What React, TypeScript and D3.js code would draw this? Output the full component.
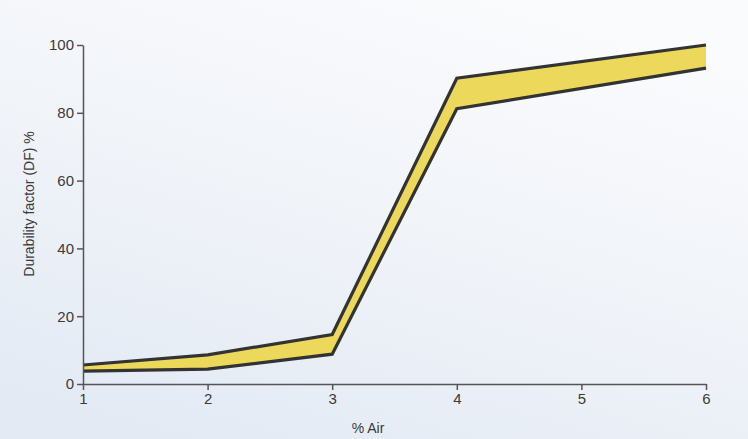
import React, { useRef, useEffect } from "react";
import * as d3 from "d3";

const W = 748;
const H = 439;
const MARGIN = { top: 45, right: 42, bottom: 55, left: 83 };

const airPct = [1, 2, 3, 4, 6];
const dfUpper = [5.6, 8.6, 14.6, 90.2, 100];
const dfLower = [3.8, 4.4, 8.8, 81.2, 93.2];
const xTicks = [1, 2, 3, 4, 5, 6];
const yTicks = [0, 20, 40, 60, 80, 100];

const LINE_COLOR = "#333333";
const FILL_COLOR = "#ecd95c";
const AXIS_COLOR = "#555";
const TEXT_COLOR = "#3a3a3a";
const FONT = "'Liberation Sans', Arial, sans-serif";

export default function App() {
  const svgRef = useRef<SVGSVGElement>(null);

  useEffect(() => {
    const svg = d3.select(svgRef.current);
    svg.selectAll("*").remove();

    const innerW = W - MARGIN.left - MARGIN.right;
    const innerH = H - MARGIN.top - MARGIN.bottom;

    // paper-ish background, whiter at the top right
    const defs = svg.append("defs");
    const grad = defs
      .append("linearGradient")
      .attr("id", "bg")
      .attr("x1", "70%")
      .attr("y1", "0%")
      .attr("x2", "20%")
      .attr("y2", "100%");
    grad.append("stop").attr("offset", "0%").attr("stop-color", "#fafbfd");
    grad.append("stop").attr("offset", "45%").attr("stop-color", "#f1f4f9");
    grad.append("stop").attr("offset", "100%").attr("stop-color", "#e3eaf4");
    svg.append("rect").attr("width", W).attr("height", H).attr("fill", "url(#bg)");

    const g = svg
      .append("g")
      .attr("transform", `translate(${MARGIN.left},${MARGIN.top})`);

    const x = d3.scaleLinear().domain([1, 6]).range([0, innerW]);
    const y = d3.scaleLinear().domain([0, 100]).range([innerH, 0]);

    const pts = airPct.map((a, i) => ({ a, lo: dfLower[i], hi: dfUpper[i] }));

    // band between the two bounding curves
    const area = d3
      .area<{ a: number; lo: number; hi: number }>()
      .x((d) => x(d.a))
      .y0((d) => y(d.lo))
      .y1((d) => y(d.hi));
    g.append("path").datum(pts).attr("d", area).attr("fill", FILL_COLOR);

    const line = d3
      .line<{ a: number; v: number }>()
      .x((d) => x(d.a))
      .y((d) => y(d.v));
    [dfUpper, dfLower].forEach((vals) => {
      g.append("path")
        .datum(airPct.map((a, i) => ({ a, v: vals[i] })))
        .attr("d", line)
        .attr("fill", "none")
        .attr("stroke", LINE_COLOR)
        .attr("stroke-width", 3.2)
        .attr("stroke-linejoin", "miter");
    });

    // axes
    const xAxis = g
      .append("g")
      .attr("transform", `translate(0,${innerH})`)
      .call(d3.axisBottom(x).tickValues(xTicks).tickFormat(d3.format("d")).tickSize(6).tickSizeOuter(0).tickPadding(3));
    const yAxis = g
      .append("g")
      .call(d3.axisLeft(y).tickValues(yTicks).tickSize(6).tickSizeOuter(0).tickPadding(3));

    [xAxis, yAxis].forEach((ax) => {
      ax.select(".domain").attr("stroke", AXIS_COLOR).attr("stroke-width", 1.5);
      ax.selectAll(".tick line").attr("stroke", AXIS_COLOR).attr("stroke-width", 1.5);
      ax.selectAll("text")
        .attr("font-family", FONT)
        .attr("font-size", 15)
        .attr("fill", TEXT_COLOR);
    });

    svg
      .append("text")
      .attr("x", 368)
      .attr("y", 433)
      .attr("text-anchor", "middle")
      .attr("font-family", FONT)
      .attr("font-size", 14)
      .attr("fill", TEXT_COLOR)
      .text("% Air");

    svg
      .append("text")
      .attr("transform", `translate(34,${204}) rotate(-90)`)
      .attr("text-anchor", "middle")
      .attr("font-family", FONT)
      .attr("font-size", 14)
      .attr("fill", TEXT_COLOR)
      .text("Durability factor (DF) %");
  }, []);

  return (
    <svg
      ref={svgRef}
      width={W}
      height={H}
      style={{ position: "absolute", left: 0, top: 0 }}
    />
  );
}
